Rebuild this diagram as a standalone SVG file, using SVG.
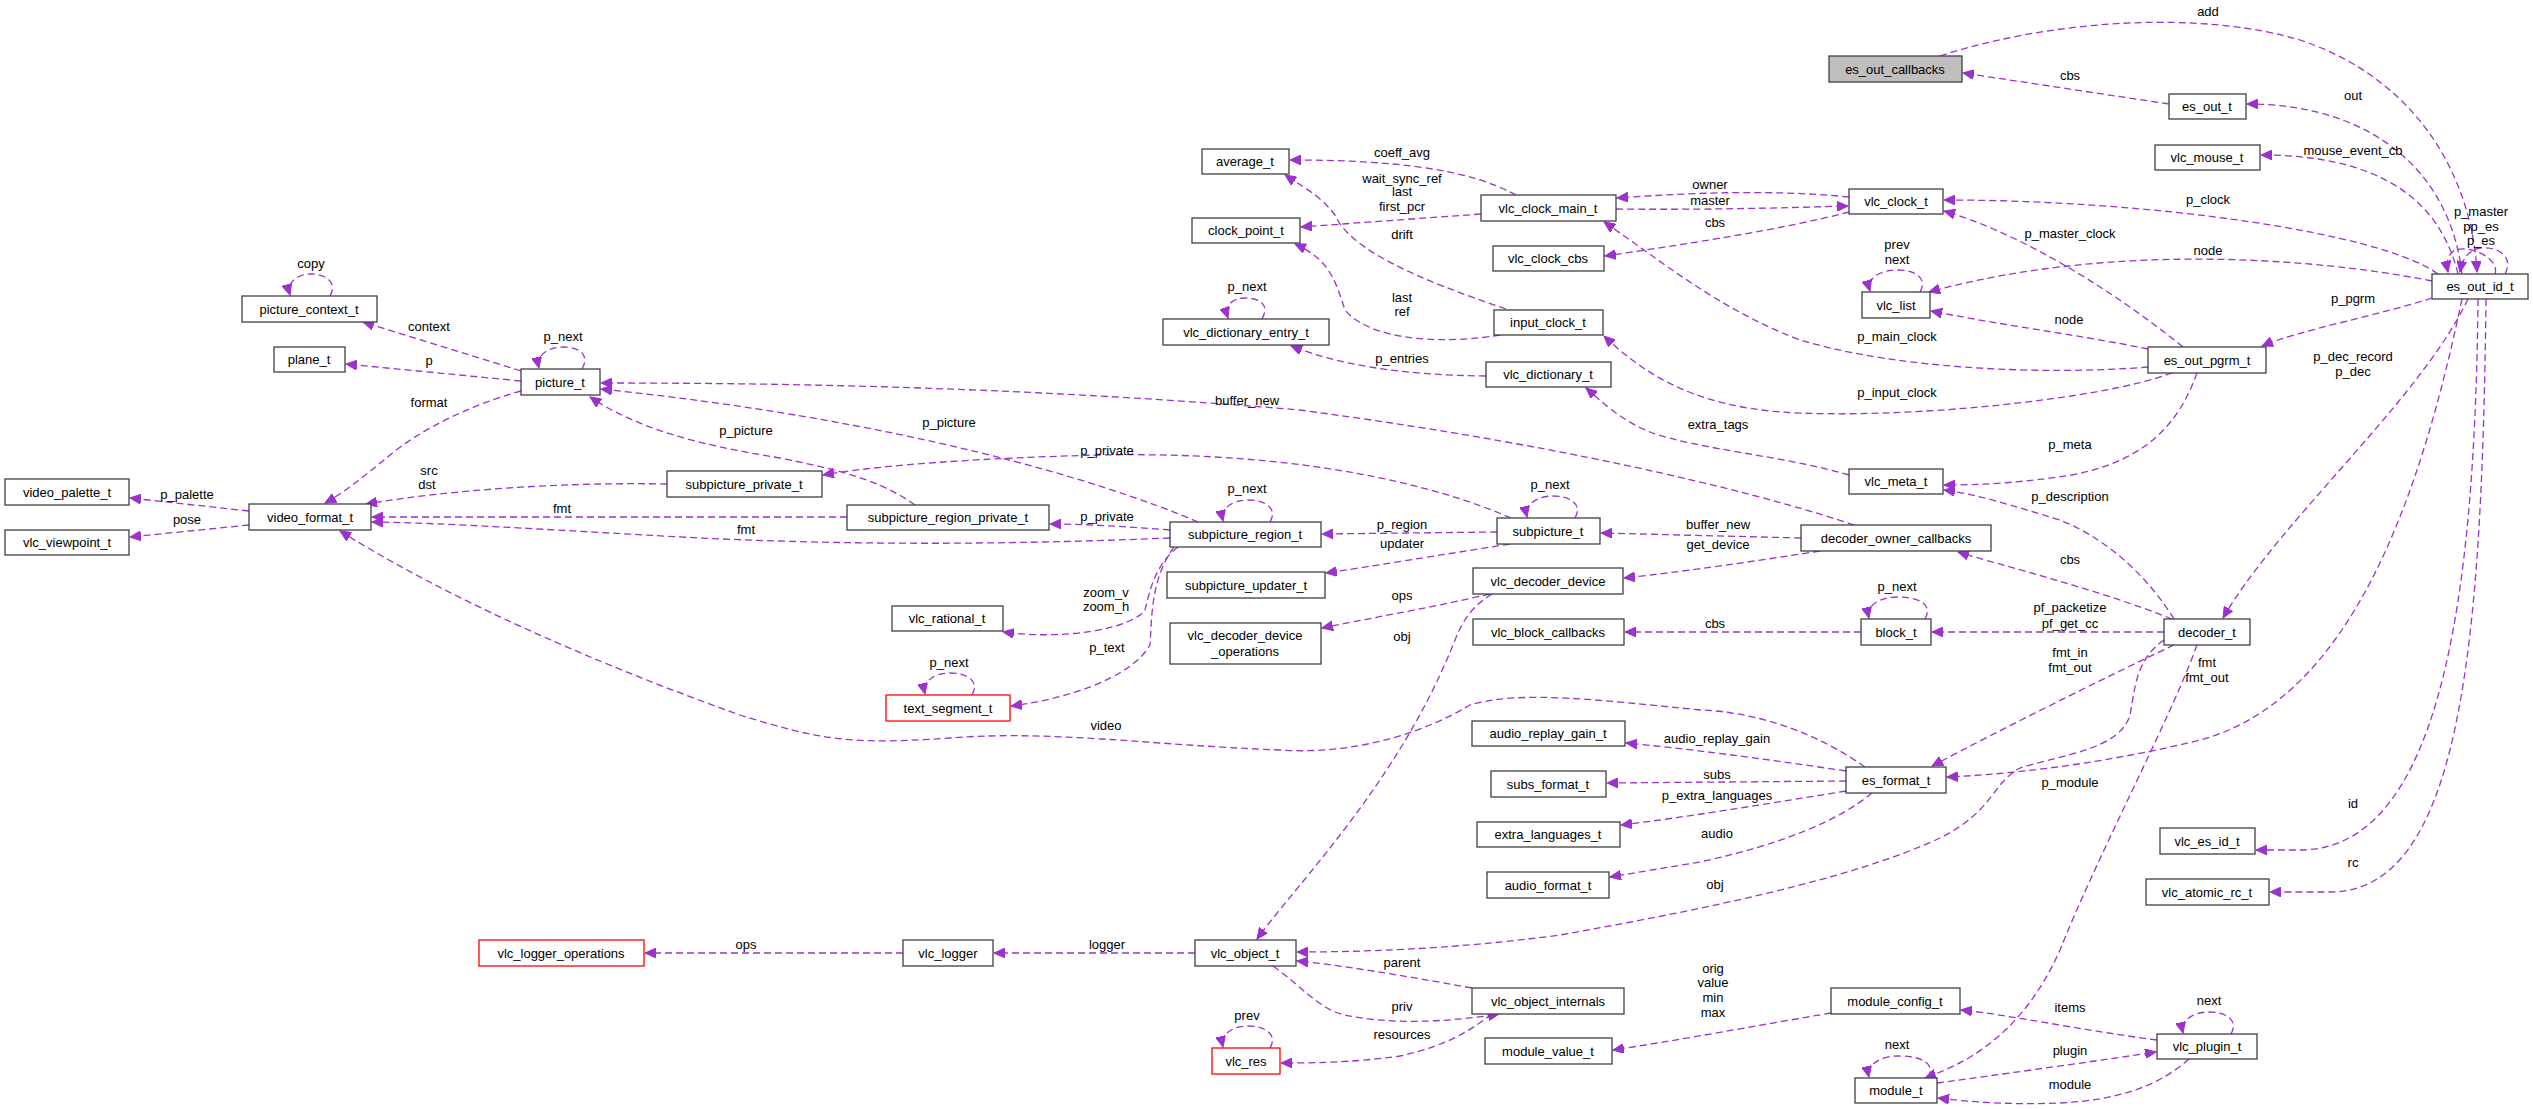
<svg xmlns="http://www.w3.org/2000/svg" width="2533" height="1109" viewBox="0 0 2533 1109">
<style>
text{font-family:"Liberation Sans",Arial,sans-serif;font-size:13px;fill:#000}
.nt{text-anchor:middle}
.lb{text-anchor:middle}
rect{fill:#fff;stroke:#404040;stroke-width:1.3}
rect.red{stroke:#ff0000}
rect.foc{fill:#bfbfbf}
#edges path{fill:none;stroke:#9a32cd;stroke-width:1.3;stroke-dasharray:7,4;marker-end:url(#ah)}
</style>
<defs>
<marker id="ah" markerUnits="userSpaceOnUse" markerWidth="12" markerHeight="10" refX="11" refY="5" orient="auto">
<path d="M0,0 L11,5 L0,10 z" fill="#9a32cd" stroke="#9a32cd"/>
</marker>
</defs>
<rect x="0" y="0" width="2533" height="1109" style="fill:#fff;stroke:none"/>
<g id="edges">
<path d="M1940,56 C2050,20 2200,10 2300,40 C2420,80 2472,180 2477,272"/>
<path d="M2169,104 L1963,73"/>
<path d="M2462,274 C2450,170 2370,104 2247,104"/>
<path d="M2458,274 C2440,200 2380,155 2261,155"/>
<path d="M2438,274 C2380,232 2150,200 1944,200"/>
<path d="M2505,274 C2515,255 2495,246 2480,248 C2468,250 2462,260 2460,272"/>
<path d="M2495,274 C2500,258 2470,245 2455,250 C2448,254 2446,262 2448,272"/>
<path d="M2432,281 C2300,255 2100,245 1929,292"/>
<path d="M2432,298 C2380,315 2300,330 2262,346"/>
<path d="M2468,299 C2420,400 2280,520 2223,618"/>
<path d="M2478,299 C2475,600 2440,850 2300,850 L2256,850"/>
<path d="M2486,299 C2482,650 2460,892 2330,892 L2270,892"/>
<path d="M2462,299 C2420,500 2350,700 2200,740 C2100,765 2000,775 1947,777"/>
<path d="M1849,197 C1780,190 1700,192 1617,198"/>
<path d="M1616,209 C1700,210 1780,208 1848,206"/>
<path d="M1849,212 C1780,230 1680,245 1605,256"/>
<path d="M1516,195 C1470,170 1400,160 1290,160"/>
<path d="M1481,214 L1301,227"/>
<path d="M1506,309 C1420,280 1350,250 1335,215 C1320,195 1300,185 1285,175"/>
<path d="M1500,335 C1440,345 1370,340 1345,310 C1335,280 1330,260 1295,244"/>
<path d="M1486,376 C1400,375 1340,365 1291,346"/>
<path d="M1262,319 C1270,305 1260,298 1245,298 C1232,298 1224,306 1228,318"/>
<path d="M2148,367 C2050,375 1900,370 1800,340 C1720,310 1660,260 1604,222"/>
<path d="M2172,373 C2100,400 1900,420 1780,412 C1700,405 1650,380 1604,336"/>
<path d="M1849,475 C1780,455 1700,450 1650,432 C1620,420 1600,400 1586,388"/>
<path d="M2197,373 C2180,420 2150,460 2072,475 C2020,483 1980,485 1944,485"/>
<path d="M2183,347 C2100,280 2010,230 1944,211"/>
<path d="M2148,349 C2080,335 2000,325 1931,311"/>
<path d="M1920,292 C1928,278 1915,270 1898,270 C1880,270 1866,278 1870,291"/>
<path d="M2174,619 C2150,580 2110,540 2060,520 C2010,505 1980,495 1944,490"/>
<path d="M2172,619 C2100,590 2000,565 1958,552"/>
<path d="M1854,525 C1780,500 1600,450 1300,410 C1000,385 750,383 601,383"/>
<path d="M1801,538 L1601,533"/>
<path d="M1820,551 C1750,562 1680,572 1624,578"/>
<path d="M1198,522 C1100,480 900,420 601,389"/>
<path d="M915,505 C880,480 840,470 780,458 C700,445 640,430 590,397"/>
<path d="M1511,518 C1400,470 1250,452 1100,455 C980,458 880,465 823,475"/>
<path d="M667,484 C560,482 450,490 366,504"/>
<path d="M521,391 C470,405 420,430 390,455 C360,480 340,495 325,503"/>
<path d="M521,371 L363,322"/>
<path d="M521,381 L346,364"/>
<path d="M582,369 C590,355 580,347 563,347 C548,347 536,355 539,368"/>
<path d="M330,296 C338,282 325,274 311,274 C298,274 286,282 290,295"/>
<path d="M249,511 L130,498"/>
<path d="M249,525 L130,537"/>
<path d="M847,517 L372,517"/>
<path d="M1170,538 C1000,545 850,545 700,538 C550,530 450,523 372,522"/>
<path d="M1170,530 C1120,526 1080,524 1050,524"/>
<path d="M1270,522 C1278,508 1265,500 1248,500 C1233,500 1220,508 1223,521"/>
<path d="M1497,532 L1322,534"/>
<path d="M1575,518 C1583,504 1570,496 1553,496 C1538,496 1524,504 1527,517"/>
<path d="M1510,544 C1440,555 1380,565 1326,573"/>
<path d="M1178,547 C1155,565 1150,590 1145,610 C1130,630 1060,640 1003,632"/>
<path d="M1174,547 C1150,580 1152,620 1150,645 C1130,680 1060,700 1011,706"/>
<path d="M972,695 C980,681 967,673 950,673 C935,673 922,681 925,694"/>
<path d="M1865,767 C1820,735 1760,712 1700,710 C1600,700 1520,690 1470,705 C1420,735 1350,755 1280,750 C1150,745 1050,730 950,738 C850,745 820,740 740,715 C600,665 450,600 340,531"/>
<path d="M1846,771 C1760,758 1680,748 1626,743"/>
<path d="M1846,781 L1607,783"/>
<path d="M1846,791 C1760,805 1680,818 1621,825"/>
<path d="M1872,793 C1840,820 1780,845 1700,862 L1610,877"/>
<path d="M2174,645 C2100,680 2000,730 1932,766"/>
<path d="M2164,632 L1932,632"/>
<path d="M1925,619 C1933,605 1920,597 1898,597 C1880,597 1866,605 1869,618"/>
<path d="M1861,632 L1625,632"/>
<path d="M2164,640 C2135,660 2135,690 2130,715 C2120,750 2060,755 2020,768 C1990,785 1995,810 1940,838 C1850,880 1700,910 1560,935 C1450,950 1350,952 1297,952"/>
<path d="M1492,594 C1475,605 1465,615 1455,640 C1400,780 1300,880 1257,939"/>
<path d="M1490,594 C1420,610 1370,618 1322,628"/>
<path d="M1195,953 L994,953"/>
<path d="M903,953 L645,953"/>
<path d="M1472,988 C1400,975 1340,965 1297,961"/>
<path d="M1273,966 C1300,985 1320,1010 1345,1015 C1390,1025 1450,1022 1499,1014"/>
<path d="M1492,1014 C1470,1030 1450,1045 1400,1056 C1350,1063 1310,1063 1281,1063"/>
<path d="M1270,1048 C1278,1034 1265,1026 1248,1026 C1233,1026 1220,1034 1223,1047"/>
<path d="M1831,1013 C1760,1025 1680,1040 1613,1050"/>
<path d="M2157,1040 C2080,1030 2010,1015 1961,1010"/>
<path d="M1937,1083 C2010,1073 2090,1062 2156,1052"/>
<path d="M2189,1059 C2160,1085 2120,1100 2060,1103 C2010,1105 1970,1102 1938,1098"/>
<path d="M2231,1034 C2239,1020 2226,1012 2209,1012 C2194,1012 2180,1020 2183,1033"/>
<path d="M1928,1078 C1936,1064 1923,1056 1898,1056 C1882,1056 1866,1064 1869,1077"/>
<path d="M2197,645 C2170,720 2100,850 2060,950 C2020,1040 1960,1065 1925,1078"/>
</g>
<g id="labels">
<text class="lb" x="2208" y="16">add</text>
<text class="lb" x="2070" y="80">cbs</text>
<text class="lb" x="2353" y="100">out</text>
<text class="lb" x="2353" y="155">mouse_event_cb</text>
<text class="lb" x="1710" y="189">owner</text>
<text class="lb" x="1710" y="205">master</text>
<text class="lb" x="1715" y="227">cbs</text>
<text class="lb" x="2208" y="204">p_clock</text>
<text class="lb" x="2070" y="238">p_master_clock</text>
<text class="lb" x="1897" y="249">prev</text>
<text class="lb" x="1897" y="264">next</text>
<text class="lb" x="2208" y="255">node</text>
<text class="lb" x="2481" y="216">p_master</text>
<text class="lb" x="2481" y="231">pp_es</text>
<text class="lb" x="2481" y="245">p_es</text>
<text class="lb" x="2353" y="303">p_pgrm</text>
<text class="lb" x="2069" y="324">node</text>
<text class="lb" x="1897" y="341">p_main_clock</text>
<text class="lb" x="2353" y="361">p_dec_record</text>
<text class="lb" x="2353" y="376">p_dec</text>
<text class="lb" x="1897" y="397">p_input_clock</text>
<text class="lb" x="1718" y="429">extra_tags</text>
<text class="lb" x="2070" y="449">p_meta</text>
<text class="lb" x="2070" y="501">p_description</text>
<text class="lb" x="1718" y="529">buffer_new</text>
<text class="lb" x="1718" y="549">get_device</text>
<text class="lb" x="1402" y="157">coeff_avg</text>
<text class="lb" x="1402" y="183">wait_sync_ref</text>
<text class="lb" x="1402" y="196">last</text>
<text class="lb" x="1402" y="211">first_pcr</text>
<text class="lb" x="1402" y="239">drift</text>
<text class="lb" x="1402" y="302">last</text>
<text class="lb" x="1402" y="316">ref</text>
<text class="lb" x="1247" y="291">p_next</text>
<text class="lb" x="1402" y="363">p_entries</text>
<text class="lb" x="1247" y="405">buffer_new</text>
<text class="lb" x="949" y="427">p_picture</text>
<text class="lb" x="1107" y="455">p_private</text>
<text class="lb" x="1247" y="493">p_next</text>
<text class="lb" x="1107" y="521">p_private</text>
<text class="lb" x="1402" y="529">p_region</text>
<text class="lb" x="1550" y="489">p_next</text>
<text class="lb" x="1402" y="548">updater</text>
<text class="lb" x="311" y="268">copy</text>
<text class="lb" x="429" y="331">context</text>
<text class="lb" x="563" y="341">p_next</text>
<text class="lb" x="429" y="365">p</text>
<text class="lb" x="429" y="407">format</text>
<text class="lb" x="746" y="435">p_picture</text>
<text class="lb" x="429" y="475">src</text>
<text class="lb" x="427" y="489">dst</text>
<text class="lb" x="187" y="499">p_palette</text>
<text class="lb" x="187" y="524">pose</text>
<text class="lb" x="562" y="513">fmt</text>
<text class="lb" x="746" y="534">fmt</text>
<text class="lb" x="1106" y="597">zoom_v</text>
<text class="lb" x="1106" y="611">zoom_h</text>
<text class="lb" x="1107" y="652">p_text</text>
<text class="lb" x="949" y="667">p_next</text>
<text class="lb" x="1402" y="600">ops</text>
<text class="lb" x="1402" y="641">obj</text>
<text class="lb" x="1106" y="730">video</text>
<text class="lb" x="1717" y="743">audio_replay_gain</text>
<text class="lb" x="1717" y="779">subs</text>
<text class="lb" x="1717" y="800">p_extra_languages</text>
<text class="lb" x="1717" y="838">audio</text>
<text class="lb" x="1715" y="889">obj</text>
<text class="lb" x="1107" y="949">logger</text>
<text class="lb" x="746" y="949">ops</text>
<text class="lb" x="1402" y="967">parent</text>
<text class="lb" x="1402" y="1011">priv</text>
<text class="lb" x="1247" y="1020">prev</text>
<text class="lb" x="1402" y="1039">resources</text>
<text class="lb" x="1713" y="973">orig</text>
<text class="lb" x="1713" y="987">value</text>
<text class="lb" x="1713" y="1002">min</text>
<text class="lb" x="1713" y="1017">max</text>
<text class="lb" x="2070" y="564">cbs</text>
<text class="lb" x="1897" y="591">p_next</text>
<text class="lb" x="1715" y="628">cbs</text>
<text class="lb" x="2070" y="612">pf_packetize</text>
<text class="lb" x="2070" y="628">pf_get_cc</text>
<text class="lb" x="2070" y="657">fmt_in</text>
<text class="lb" x="2070" y="672">fmt_out</text>
<text class="lb" x="2207" y="667">fmt</text>
<text class="lb" x="2207" y="682">fmt_out</text>
<text class="lb" x="2070" y="787">p_module</text>
<text class="lb" x="2353" y="808">id</text>
<text class="lb" x="2353" y="867">rc</text>
<text class="lb" x="2070" y="1012">items</text>
<text class="lb" x="2209" y="1005">next</text>
<text class="lb" x="1897" y="1049">next</text>
<text class="lb" x="2070" y="1055">plugin</text>
<text class="lb" x="2070" y="1089">module</text>
</g>
<g id="es_out_callbacks"><rect class="foc" x="1829" y="56" width="133" height="26"/><text class="nt" x="1895" y="74">es_out_callbacks</text></g>
<g id="es_out_t"><rect x="2169" y="94" width="77" height="25"/><text class="nt" x="2207" y="111">es_out_t</text></g>
<g id="vlc_mouse_t"><rect x="2155" y="145" width="105" height="25"/><text class="nt" x="2207" y="162">vlc_mouse_t</text></g>
<g id="vlc_clock_t"><rect x="1849" y="189" width="94" height="25"/><text class="nt" x="1896" y="206">vlc_clock_t</text></g>
<g id="vlc_list"><rect x="1862" y="292" width="68" height="26"/><text class="nt" x="1896" y="310">vlc_list</text></g>
<g id="es_out_id_t"><rect x="2432" y="274" width="96" height="25"/><text class="nt" x="2480" y="291">es_out_id_t</text></g>
<g id="es_out_pgrm_t"><rect x="2148" y="347" width="118" height="26"/><text class="nt" x="2207" y="365">es_out_pgrm_t</text></g>
<g id="vlc_meta_t"><rect x="1849" y="469" width="94" height="25"/><text class="nt" x="1896" y="486">vlc_meta_t</text></g>
<g id="decoder_owner_callbacks"><rect x="1801" y="525" width="190" height="26"/><text class="nt" x="1896" y="543">decoder_owner_callbacks</text></g>
<g id="average_t"><rect x="1202" y="149" width="87" height="25"/><text class="nt" x="1245" y="166">average_t</text></g>
<g id="vlc_clock_main_t"><rect x="1481" y="195" width="135" height="26"/><text class="nt" x="1548" y="213">vlc_clock_main_t</text></g>
<g id="clock_point_t"><rect x="1192" y="218" width="108" height="25"/><text class="nt" x="1246" y="235">clock_point_t</text></g>
<g id="vlc_clock_cbs"><rect x="1493" y="246" width="111" height="25"/><text class="nt" x="1548" y="263">vlc_clock_cbs</text></g>
<g id="vlc_dictionary_entry_t"><rect x="1163" y="319" width="166" height="26"/><text class="nt" x="1246" y="337">vlc_dictionary_entry_t</text></g>
<g id="input_clock_t"><rect x="1494" y="310" width="109" height="25"/><text class="nt" x="1548" y="327">input_clock_t</text></g>
<g id="vlc_dictionary_t"><rect x="1486" y="362" width="125" height="25"/><text class="nt" x="1548" y="379">vlc_dictionary_t</text></g>
<g id="picture_context_t"><rect x="242" y="296" width="135" height="26"/><text class="nt" x="309" y="314">picture_context_t</text></g>
<g id="plane_t"><rect x="274" y="347" width="71" height="25"/><text class="nt" x="309" y="364">plane_t</text></g>
<g id="picture_t"><rect x="521" y="369" width="79" height="26"/><text class="nt" x="560" y="387">picture_t</text></g>
<g id="subpicture_private_t"><rect x="667" y="471" width="155" height="26"/><text class="nt" x="744" y="489">subpicture_private_t</text></g>
<g id="video_palette_t"><rect x="5" y="479" width="124" height="26"/><text class="nt" x="67" y="497">video_palette_t</text></g>
<g id="video_format_t"><rect x="249" y="504" width="122" height="26"/><text class="nt" x="310" y="522">video_format_t</text></g>
<g id="vlc_viewpoint_t"><rect x="5" y="530" width="124" height="25"/><text class="nt" x="67" y="547">vlc_viewpoint_t</text></g>
<g id="subpicture_region_private_t"><rect x="847" y="505" width="202" height="25"/><text class="nt" x="948" y="522">subpicture_region_private_t</text></g>
<g id="subpicture_region_t"><rect x="1170" y="522" width="151" height="25"/><text class="nt" x="1245" y="539">subpicture_region_t</text></g>
<g id="subpicture_t"><rect x="1497" y="518" width="103" height="26"/><text class="nt" x="1548" y="536">subpicture_t</text></g>
<g id="subpicture_updater_t"><rect x="1167" y="572" width="158" height="26"/><text class="nt" x="1246" y="590">subpicture_updater_t</text></g>
<g id="vlc_decoder_device"><rect x="1473" y="568" width="150" height="26"/><text class="nt" x="1548" y="586">vlc_decoder_device</text></g>
<g id="vlc_rational_t"><rect x="892" y="606" width="111" height="25"/><text class="nt" x="947" y="623">vlc_rational_t</text></g>
<g id="vlc_decoder_device_operations"><rect x="1170" y="623" width="151" height="41"/><text class="nt" x="1245" y="640">vlc_decoder_device</text><text class="nt" x="1245" y="656">_operations</text></g>
<g id="vlc_block_callbacks"><rect x="1473" y="619" width="151" height="26"/><text class="nt" x="1548" y="637">vlc_block_callbacks</text></g>
<g id="text_segment_t"><rect class="red" x="886" y="695" width="124" height="26"/><text class="nt" x="948" y="713">text_segment_t</text></g>
<g id="audio_replay_gain_t"><rect x="1472" y="721" width="153" height="25"/><text class="nt" x="1548" y="738">audio_replay_gain_t</text></g>
<g id="subs_format_t"><rect x="1491" y="771" width="115" height="26"/><text class="nt" x="1548" y="789">subs_format_t</text></g>
<g id="extra_languages_t"><rect x="1477" y="822" width="143" height="25"/><text class="nt" x="1548" y="839">extra_languages_t</text></g>
<g id="audio_format_t"><rect x="1487" y="872" width="122" height="26"/><text class="nt" x="1548" y="890">audio_format_t</text></g>
<g id="vlc_logger_operations"><rect class="red" x="479" y="940" width="165" height="26"/><text class="nt" x="561" y="958">vlc_logger_operations</text></g>
<g id="vlc_logger"><rect x="903" y="940" width="90" height="26"/><text class="nt" x="948" y="958">vlc_logger</text></g>
<g id="vlc_object_t"><rect x="1195" y="940" width="101" height="26"/><text class="nt" x="1245" y="958">vlc_object_t</text></g>
<g id="vlc_object_internals"><rect x="1472" y="988" width="152" height="26"/><text class="nt" x="1548" y="1006">vlc_object_internals</text></g>
<g id="vlc_res"><rect class="red" x="1212" y="1048" width="68" height="26"/><text class="nt" x="1246" y="1066">vlc_res</text></g>
<g id="module_value_t"><rect x="1485" y="1038" width="127" height="26"/><text class="nt" x="1548" y="1056">module_value_t</text></g>
<g id="block_t"><rect x="1861" y="619" width="70" height="26"/><text class="nt" x="1896" y="637">block_t</text></g>
<g id="decoder_t"><rect x="2164" y="619" width="86" height="26"/><text class="nt" x="2207" y="637">decoder_t</text></g>
<g id="es_format_t"><rect x="1846" y="767" width="100" height="26"/><text class="nt" x="1896" y="785">es_format_t</text></g>
<g id="vlc_es_id_t"><rect x="2160" y="828" width="95" height="26"/><text class="nt" x="2207" y="846">vlc_es_id_t</text></g>
<g id="vlc_atomic_rc_t"><rect x="2146" y="879" width="123" height="26"/><text class="nt" x="2207" y="897">vlc_atomic_rc_t</text></g>
<g id="module_config_t"><rect x="1831" y="988" width="129" height="26"/><text class="nt" x="1895" y="1006">module_config_t</text></g>
<g id="vlc_plugin_t"><rect x="2157" y="1034" width="100" height="25"/><text class="nt" x="2207" y="1051">vlc_plugin_t</text></g>
<g id="module_t"><rect x="1855" y="1078" width="82" height="25"/><text class="nt" x="1896" y="1095">module_t</text></g>
</svg>
